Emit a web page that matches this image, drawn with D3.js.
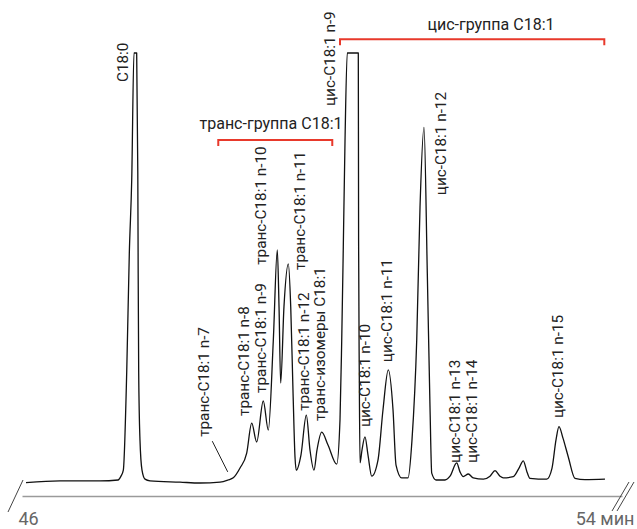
<!DOCTYPE html>
<html>
<head>
<meta charset="utf-8">
<script src="https://cdn.jsdelivr.net/npm/d3@7"></script>
<style>
  body { margin: 0; background: #fff; }
  svg text { font-family: Roboto, "Noto Sans", sans-serif; }
</style>
</head>
<body>
<div id="chart"></div>
<script>
// chromatogram trace, time in min / relative intensity
var traceTime = [46.053, 46.507, 47.040, 47.280, 47.320, 47.351, 47.396, 47.431, 47.463, 47.493,
  47.529, 47.544, 47.549, 47.556, 47.573, 47.600, 47.640, 47.707, 48.107, 48.373,
  48.640, 48.747, 48.817, 48.907, 48.996, 49.063, 49.129, 49.217, 49.284, 49.351,
  49.404, 49.427, 49.449, 49.493, 49.551, 49.583, 49.613, 49.640, 49.657, 49.720,
  49.791, 49.840, 49.893, 49.933, 49.996, 50.080, 50.196, 50.240, 50.263, 50.284,
  50.307, 50.337, 50.484, 50.488, 50.497, 50.507, 50.533, 50.573, 50.613, 50.663,
  50.747, 50.813, 50.884, 50.947, 50.987, 51.063, 51.147, 51.200, 51.263, 51.307,
  51.360, 51.404, 51.440, 51.463, 51.520, 51.640, 51.707, 51.796, 51.840, 51.884,
  51.951, 52.017, 52.151, 52.240, 52.307, 52.373, 52.417, 52.551, 52.627, 52.684,
  52.733, 52.773, 52.996, 53.067, 53.120, 53.160, 53.213, 53.284, 53.373, 53.507,
  53.773];
var traceValue = [-0.6, -0.2, -0.2, 0.0, 0.9, 2.3, 25.1, 53.2, 70.3, 100,
  100, 71.9, 48.5, 25.1, 9.4, 2.3, 0.2, -0.2, -0.5, -0.7,
  -0.5, 0.0, 0.5, 2.8, 6.3, 13.3, 8.9, 18.5, 11.7, 32.8,
  53.9, 40.6, 22.7, 40.6, 50.6, 40.6, 21.1, 5.4, 2.3, 5.9,
  15.2, 7.0, 2.3, 7.0, 11.2, 8.2, 3.7, 14.1, 32.8, 54.6,
  79.6, 100, 100, 56.2, 25.1, 4.0, 7.0, 10.1, 5.9, 0.9,
  4.7, 16.4, 25.8, 16.4, 3.5, 0.5, 0.5, 9.4, 32.8, 64.0,
  82.6, 48.5, 17.1, 1.6, 0.0, 0.0, 0.9, 4.0, 1.9, 0.8,
  1.4, 0.5, 0.2, 0.9, 2.2, 0.9, 0.5, 0.8, 2.8, 4.5,
  1.9, 0.4, 0.2, 2.8, 9.4, 12.5, 9.8, 5.4, 0.4, 0.1,
  0.2];

// peak labels: text, time of label baseline, intensity where the text starts
var peakNames = ["C18:0", "транс-C18:1 n-7", "транс-C18:1 n-8", "транс-C18:1 n-9",
  "транс-C18:1 n-10", "транс-C18:1 n-11", "транс-C18:1 n-12", "транс-изомеры C18:1",
  "цис-C18:1 n-9", "цис-C18:1 n-10", "цис-C18:1 n-11", "цис-C18:1 n-12",
  "цис-C18:1 n-13", "цис-C18:1 n-14", "цис-C18:1 n-15"];
var peakLabelTime = [47.413, 48.493, 49.027, 49.253, 49.253, 49.773, 49.827, 50.040,
  50.173, 50.640, 50.933, 51.653, 51.840, 52.067, 53.213];
var peakLabelValue = [93.2, 10.1, 15.0, 20.4, 50.4, 49.2, 16.2, 13.8,
  87.6, 12.4, 27.6, 66.7, 4.0, 4.0, 14.5];

// leader line for транс-C18:1 n-7
var leaderTime = [48.537, 48.743];
var leaderValue = [9.1, 1.9];

// group brackets
var groupNames = ["транс-группа C18:1", "цис-группа C18:1"];
var groupStart = [48.617, 50.240];
var groupEnd = [50.137, 53.764];
var groupLevel = [79.6, 103.2];
var groupTextTime = [49.320, 52.253];
var groupTextLevel = [82.2, 105.4];

var axisTicks = [46, 54];
var axisTickLabels = ["46", "54 мин"];

var width = 637, height = 529;

var x = d3.scaleLinear().domain([46, 54]).range([22, 622]);
var y = d3.scaleLinear().domain([0, 100]).range([480, 53]);

var svg = d3.select("#chart").append("svg")
    .attr("width", width)
    .attr("height", height);

// axis
var xAxis = d3.axisBottom(x)
    .tickValues(axisTicks)
    .tickSize(0)
    .tickSizeOuter(0)
    .tickFormat(function(d, i) { return axisTickLabels[i]; });

var gx = svg.append("g")
    .attr("class", "x axis")
    .attr("transform", "translate(0,496)")
    .call(xAxis);
gx.select(".domain").attr("stroke", "#9a9a9a").attr("stroke-width", 1.4);
gx.selectAll(".tick text")
    .attr("y", 29)
    .attr("dy", 0)
    .attr("fill", "#666")
    .style("font-size", "18px")
    .style("font-family", "Roboto, sans-serif")
    .attr("text-anchor", function(d, i) { return i == 0 ? "start" : "end"; })
    .attr("dx", function(d, i) { return i == 0 ? -4 : 12; });

// break marks
var x0 = x.range()[0], x1 = x.range()[1];
svg.append("line")
    .attr("x1", x0 - 14).attr("y1", 512).attr("x2", x0 + 1).attr("y2", 480)
    .attr("stroke", "#444").attr("stroke-width", 1);
[-10, -5].forEach(function(o) {
  svg.append("line")
      .attr("x1", x1 + o).attr("y1", 511).attr("x2", x1 + o + 17).attr("y2", 482)
      .attr("stroke", "#444").attr("stroke-width", 1);
});

// trace
var trace = traceTime.map(function(t, i) { return [t, traceValue[i]]; });
var line = d3.line()
    .x(function(d) { return x(d[0]); })
    .y(function(d) { return y(d[1]); })
    .curve(d3.curveMonotoneX);

svg.append("path")
    .datum(trace)
    .attr("d", line)
    .attr("fill", "none")
    .attr("stroke", "#111")
    .attr("stroke-width", 1.3)
    .attr("stroke-linejoin", "round");

// leader line
svg.append("line")
    .attr("x1", x(leaderTime[0])).attr("y1", y(leaderValue[0]))
    .attr("x2", x(leaderTime[1])).attr("y2", y(leaderValue[1]))
    .attr("stroke", "#222").attr("stroke-width", 1);

// peak labels (rotated)
svg.append("g").selectAll("text")
    .data(peakNames)
  .enter().append("text")
    .attr("transform", function(d, i) {
      return "translate(" + x(peakLabelTime[i]) + "," + y(peakLabelValue[i]) + ") rotate(-90)";
    })
    .attr("fill", "#222")
    .style("font-size", "15.3px")
    .text(function(d) { return d; });

// group brackets
var tick = 6;
groupNames.forEach(function(name, i) {
  var a = x(groupStart[i]), b = x(groupEnd[i]), h = y(groupLevel[i]);
  svg.append("path")
      .attr("d", "M" + a + "," + (h + tick) + "V" + h + "H" + b + "V" + (h + tick))
      .attr("fill", "none")
      .attr("stroke", "#e8392b")
      .attr("stroke-width", 2);
  svg.append("text")
      .attr("x", x(groupTextTime[i]))
      .attr("y", y(groupTextLevel[i]))
      .attr("text-anchor", "middle")
      .attr("fill", "#222")
      .style("font-size", "16px")
      .text(name);
});
</script>
</body>
</html>
